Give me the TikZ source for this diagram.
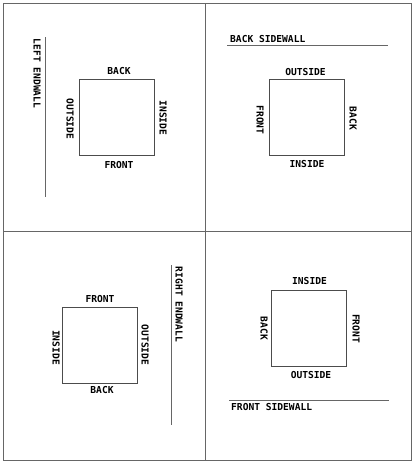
\documentclass[tikz,border=0pt]{standalone}
\usepackage{fontspec}
\newfontfamily\cadfont{DejaVu Sans Mono}
\begin{document}
\begin{tikzpicture}[x=1pt,y=-1pt,
  frame/.style={draw=black!60,line width=1pt},
  wall/.style={draw=black!60,line width=1pt},
  box/.style={draw=black!70,line width=0.9pt,inner sep=0pt,minimum width=75pt,minimum height=76pt},
  lbl/.style={inner sep=0pt,font=\cadfont\bfseries\fontsize{9.6}{10}\selectfont},
  vlbl/.style={lbl,rotate=-90}]
\useasboundingbox (0,0) rectangle (414,463);
\draw[frame] (3,3) rectangle (411,460);
\coordinate (vt) at (205,3); \coordinate (vb) at (205,460);
\coordinate (hl) at (3,231); \coordinate (hr) at (411,231);
\draw[frame] (vt) -- (vb);
\draw[frame] (hl) -- (hr);
% quadrant 1
\coordinate (w1a) at (45,37); \coordinate (w1b) at (45,197);
\draw[wall] (w1a) -- (w1b);
\node[vlbl] (t1) at (37,73.5) {LEFT ENDWALL};
\node[box] (s1) at (116.5,117) {};
\node[lbl] (s1n) at (119,71) {BACK};
\node[lbl] (s1s) at (119,165) {FRONT};
\node[vlbl] (s1w) at (70,119) {OUTSIDE};
\node[vlbl] (s1e) at (163,118) {INSIDE};
% quadrant 2
\coordinate (w2a) at (227,45); \coordinate (w2b) at (388,45);
\draw[wall] (w2a) -- (w2b);
\node[lbl,anchor=west] (t2) at (230,39) {BACK SIDEWALL};
\node[box] (s2) at (307,117.5) {};
\node[lbl] (s2n) at (305.5,72) {OUTSIDE};
\node[lbl] (s2s) at (307,164) {INSIDE};
\node[vlbl] (s2w) at (260,120) {FRONT};
\node[vlbl] (s2e) at (353,118.5) {BACK};
% quadrant 3
\coordinate (w3a) at (171,265); \coordinate (w3b) at (171,425);
\draw[wall] (w3a) -- (w3b);
\node[vlbl] (t3) at (179,304.5) {RIGHT ENDWALL};
\node[box] (s3) at (100,345) {};
\node[lbl] (s3n) at (100,298.7) {FRONT};
\node[lbl] (s3s) at (102,390) {BACK};
\node[vlbl] (s3w) at (56,347.5) {INSIDE};
\node[vlbl] (s3e) at (145,345) {OUTSIDE};
% quadrant 4
\coordinate (w4a) at (229,400); \coordinate (w4b) at (389,400);
\draw[wall] (w4a) -- (w4b);
\node[lbl,anchor=west] (t4) at (231,406.7) {FRONT SIDEWALL};
\node[box] (s4) at (309,328) {};
\node[lbl] (s4n) at (309.5,281) {INSIDE};
\node[lbl] (s4s) at (311,374.7) {OUTSIDE};
\node[vlbl] (s4w) at (264,328.5) {BACK};
\node[vlbl] (s4e) at (356,328.5) {FRONT};
\end{tikzpicture}
\end{document}
